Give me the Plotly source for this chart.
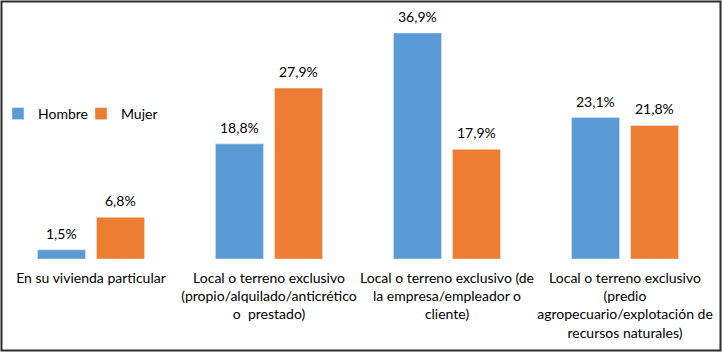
import plotly.graph_objects as go

categories = [
    "En su vivienda particular",
    "Local o terreno exclusivo<br>(propio/alquilado/anticrético<br>o  prestado)",
    "Local o terreno exclusivo (de<br>la empresa/empleador o<br>cliente)",
    "Local o terreno exclusivo<br>(predio<br>agropecuario/explotación de<br>recursos naturales)",
]
hombre = [1.5, 18.8, 36.9, 23.1]
mujer = [6.8, 27.9, 17.9, 21.8]

BLUE = "#5B9BD5"
ORANGE = "#ED7D31"
FONT = "Lato"

W, H = 723, 354
ML, MR, MT, MB = 2, 9, 14, 95
PW, PH = W - ML - MR, H - MT - MB

def px_x(x):
    return (x - ML) / PW

def px_y(y):
    return (H - MB - y) / PH

def fmt(v):
    return f"{v:.1f}%".replace(".", ",")

fig = go.Figure()
fig.add_trace(go.Bar(name="Hombre", x=categories, y=hombre, marker_color=BLUE, legend="legend"))
fig.add_trace(go.Bar(name="Mujer", x=categories, y=mujer, marker_color=ORANGE, legend="legend2"))

annotations = []
for series, shift in ((hombre, -29.5), (mujer, 29.5)):
    for c, v in zip(categories, series):
        annotations.append(dict(x=c, y=v, xref="x", yref="y", text=fmt(v),
                                showarrow=False, xshift=shift, yshift=6,
                                yanchor="bottom",
                                font=dict(family=FONT, size=14, color="#000000")))

leg_common = dict(orientation="h", yanchor="middle", xanchor="left",
                  font=dict(family=FONT, size=14, color="#000000"),
                  bgcolor="rgba(0,0,0,0)", borderwidth=0)

fig.update_layout(
    width=W, height=H,
    margin=dict(l=ML, r=MR, t=MT, b=MB, autoexpand=False),
    paper_bgcolor="white", plot_bgcolor="white",
    barmode="group", bargap=0.337, bargroupgap=0.186,
    font=dict(family=FONT, size=14, color="#000000"),
    showlegend=True,
    legend=dict(x=px_x(-2), y=px_y(114), **leg_common),
    legend2=dict(x=px_x(81), y=px_y(114), **leg_common),
    xaxis=dict(showgrid=False, showline=False, ticks="", zeroline=False, automargin=False,
               ticklabelstandoff=9,
               tickfont=dict(family=FONT, size=14, color="#000000"), tickangle=0),
    yaxis=dict(range=[0, 40], visible=False, showgrid=False, zeroline=False, automargin=False),
    annotations=annotations,
    shapes=[dict(type="rect", xref="paper", yref="paper",
                 x0=px_x(1.5), x1=px_x(720.5), y0=px_y(350.5), y1=px_y(1.5),
                 line=dict(color="#2b2b2b", width=2), fillcolor="rgba(0,0,0,0)")],
)

fig.write_html("out.html", config={"displayModeBar": False},
               post_script="document.body.style.margin='0';document.body.style.padding='0';")
